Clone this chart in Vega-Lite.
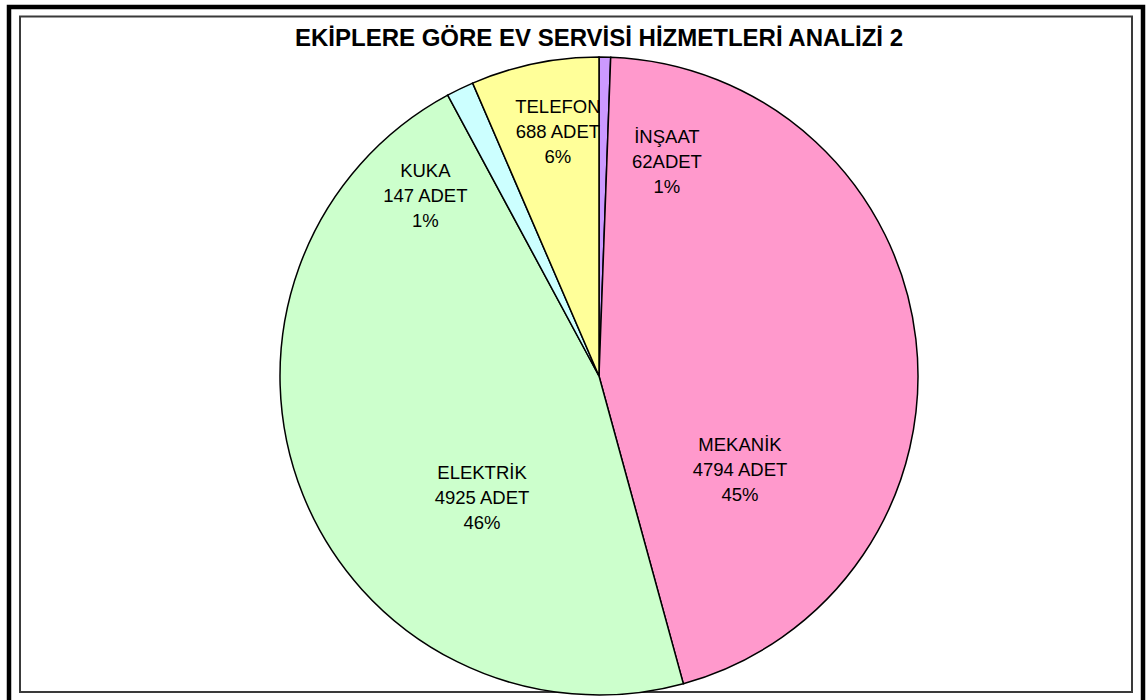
{
  "$schema": "https://vega.github.io/schema/vega-lite/v6.json",
  "autosize": "none",
  "width": 640,
  "height": 640,
  "padding": {"left": 279, "top": 56, "right": 227, "bottom": 4},
  "background": "white",
  "config": {"view": {"stroke": null}},
  "title": {
    "text": "EKİPLERE GÖRE EV SERVİSİ HİZMETLERİ ANALİZİ 2",
    "font": "Liberation Sans",
    "fontSize": 24,
    "fontWeight": "bold",
    "color": "black",
    "anchor": "middle",
    "frame": "group",
    "baseline": "alphabetic",
    "offset": -41,
    "dy": 31
  },
  "data": {
    "values": [
      {"name": "İNŞAAT", "value": 62, "idx": 1, "label": "İNŞAAT\n62ADET\n1%"},
      {"name": "MEKANİK", "value": 4794, "idx": 2, "label": "MEKANİK\n4794 ADET\n45%"},
      {"name": "ELEKTRİK", "value": 4925, "idx": 3, "label": "ELEKTRİK\n4925 ADET\n46%"},
      {"name": "KUKA", "value": 147, "idx": 4, "label": "KUKA\n147 ADET\n1%"},
      {"name": "TELEFON", "value": 688, "idx": 5, "label": "TELEFON\n688 ADET\n6%"}
    ]
  },
  "encoding": {
    "theta": {"field": "value", "type": "quantitative", "stack": true},
    "order": {"field": "idx", "type": "quantitative"}
  },
  "layer": [
    {
      "data": {"values": [{"frame": "outer"}]},
      "mark": {"type": "point", "shape": "M-590,-369H544V332H-590Z", "size": 4, "filled": false, "fill": null, "stroke": "black", "strokeWidth": 4.5, "opacity": 1, "strokeJoin": "miter"},
      "encoding": {"theta": null, "order": null}
    },
    {
      "data": {"values": [{"frame": "inner"}]},
      "mark": {"type": "point", "shape": "M-579,-359.5H533V316H-579Z", "size": 4, "filled": false, "fill": null, "stroke": "#3a3a3a", "strokeWidth": 2, "opacity": 1, "strokeJoin": "miter"},
      "encoding": {"theta": null, "order": null}
    },
    {
      "mark": {"type": "arc", "outerRadius": 319, "stroke": "black", "strokeWidth": 1.5},
      "encoding": {
        "color": {
          "field": "name",
          "type": "nominal",
          "scale": {
            "domain": ["İNŞAAT", "MEKANİK", "ELEKTRİK", "KUKA", "TELEFON"],
            "range": ["#CC99FF", "#FF99CC", "#CCFFCC", "#CCFFFF", "#FFFF99"]
          },
          "legend": null
        }
      }
    },
    {
      "mark": {"type": "text", "radius": 215, "dx": 64, "dy": -24, "font": "Liberation Sans", "fontSize": 18.5, "lineHeight": 25, "lineBreak": "\n", "align": "center", "baseline": "middle", "color": "black"},
      "encoding": {
        "detail": {"field": "name", "type": "nominal"},
        "text": {"field": "label", "type": "nominal"},
        "opacity": {"condition": {"test": "datum.name === 'İNŞAAT'", "value": 1}, "value": 0}
      }
    },
    {
      "mark": {"type": "text", "radius": 151, "dx": -9, "dy": 86, "font": "Liberation Sans", "fontSize": 18.5, "lineHeight": 25, "lineBreak": "\n", "align": "center", "baseline": "middle", "color": "black"},
      "encoding": {
        "detail": {"field": "name", "type": "nominal"},
        "text": {"field": "label", "type": "nominal"},
        "opacity": {"condition": {"test": "datum.name === 'MEKANİK'", "value": 1}, "value": 0}
      }
    },
    {
      "mark": {"type": "text", "radius": 154, "dx": 26, "dy": 40, "font": "Liberation Sans", "fontSize": 18.5, "lineHeight": 25, "lineBreak": "\n", "align": "center", "baseline": "middle", "color": "black"},
      "encoding": {
        "detail": {"field": "name", "type": "nominal"},
        "text": {"field": "label", "type": "nominal"},
        "opacity": {"condition": {"test": "datum.name === 'ELEKTRİK'", "value": 1}, "value": 0}
      }
    },
    {
      "mark": {"type": "text", "radius": 238, "dx": -70, "dy": 9, "font": "Liberation Sans", "fontSize": 18.5, "lineHeight": 25, "lineBreak": "\n", "align": "center", "baseline": "middle", "color": "black"},
      "encoding": {
        "detail": {"field": "name", "type": "nominal"},
        "text": {"field": "label", "type": "nominal"},
        "opacity": {"condition": {"test": "datum.name === 'KUKA'", "value": 1}, "value": 0}
      }
    },
    {
      "mark": {"type": "text", "radius": 248, "dx": 9, "dy": -26, "font": "Liberation Sans", "fontSize": 18.5, "lineHeight": 25, "lineBreak": "\n", "align": "center", "baseline": "middle", "color": "black"},
      "encoding": {
        "detail": {"field": "name", "type": "nominal"},
        "text": {"field": "label", "type": "nominal"},
        "opacity": {"condition": {"test": "datum.name === 'TELEFON'", "value": 1}, "value": 0}
      }
    }
  ]
}
